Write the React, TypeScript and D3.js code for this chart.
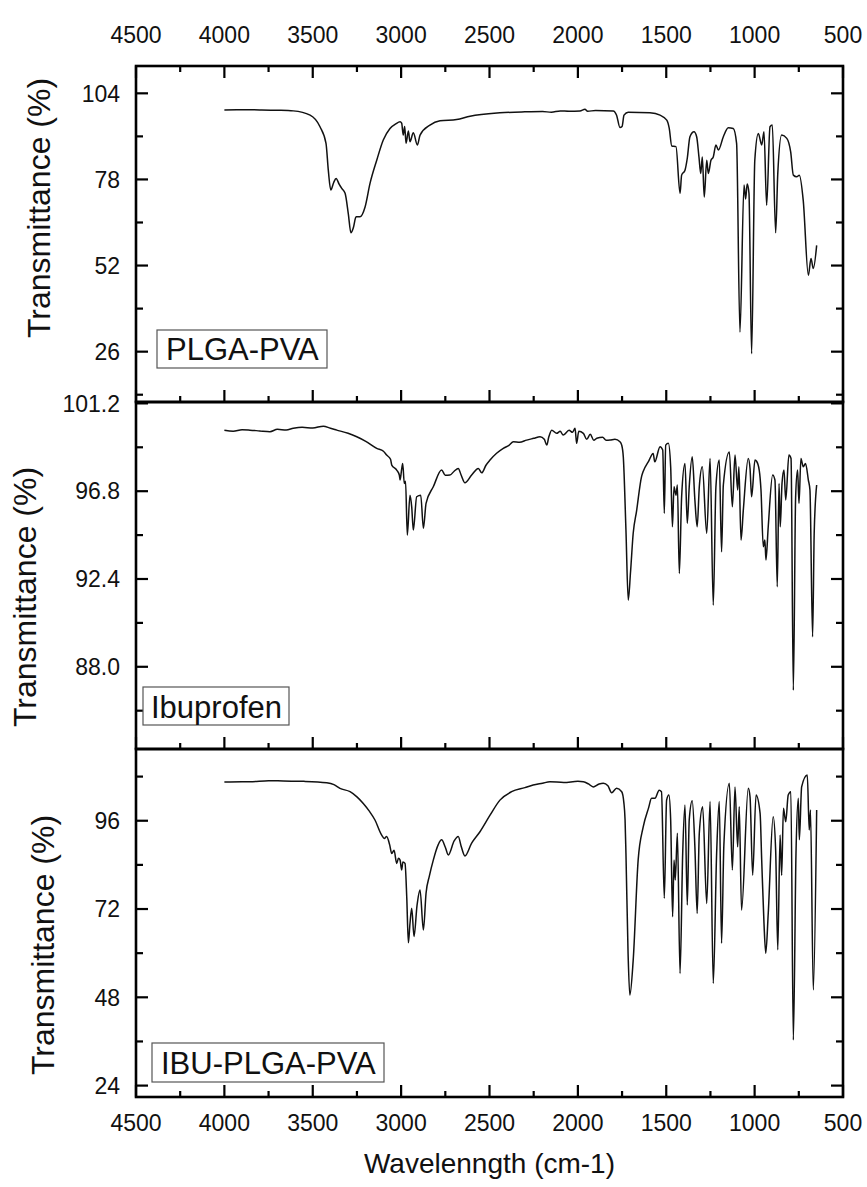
import React from "react";
import * as d3 from "d3";

// ---------- DATA (wavenumber cm-1, transmittance %) ----------
const xTickValues = [4500, 4000, 3500, 3000, 2500, 2000, 1500, 1000, 500];
const xMinorValues = [4250, 3750, 3250, 2750, 2250, 1750, 1250, 750];

const panelLabels = ["PLGA-PVA", "Ibuprofen", "IBU-PLGA-PVA"];
const yDomains: [number, number][] = [
  [10.8, 112.25],
  [83.88, 101.27],
  [20.9, 115.5],
];
const yMajorTicks = [
  [26, 52, 78, 104],
  [88.0, 92.4, 96.8, 101.2],
  [24, 48, 72, 96],
];
const yMinorTicks = [
  [13, 39, 65, 91],
  [85.8, 90.2, 94.6, 99],
  [36, 60, 84, 108],
];
const yTickDecimals = [0, 1, 0];

const plgaPva: [number, number][] = [
  [4000, 99], [3900, 99.05], [3800, 99], [3700, 98.9], [3610, 98.7], [3515, 97.4], [3459, 93.9],
  [3425, 88.9], [3412, 80.8], [3398, 74.8], [3382, 77], [3368, 78.3], [3350, 76.5], [3336, 75.3],
  [3317, 73.8], [3299, 67.7], [3284, 61.9], [3270, 63.5], [3255, 66.7], [3233, 66.7], [3204, 69.7],
  [3176, 76.8], [3138, 83.8], [3101, 89.9], [3063, 93.4], [3030, 94.8], [3006, 95.4], [2997, 95],
  [2988, 91.4], [2980, 94], [2972, 88.9], [2959, 92.6], [2950, 89.4], [2931, 92.1], [2908, 88.4],
  [2893, 91.4], [2837, 94.4], [2780, 95.7], [2686, 96.1], [2610, 97.1], [2441, 98.1], [2300, 98.4],
  [2200, 98.5], [2150, 98.3], [2100, 98.7], [2050, 98.6], [1988, 98.7], [1960, 99.2], [1945, 98.6],
  [1900, 98.8], [1800, 98.7], [1781, 97.4], [1762, 93.7], [1750, 94], [1739, 97.4], [1715, 98.3],
  [1592, 98.1], [1535, 97.4], [1497, 95.9], [1483, 93.4], [1469, 88.1], [1445, 87.9], [1422, 73.8],
  [1413, 79.3], [1394, 80.8], [1381, 84.4], [1366, 90.9], [1343, 92.4], [1328, 90.9], [1315, 84.8],
  [1305, 79.8], [1296, 84.8], [1285, 72.7], [1271, 83.8], [1262, 79.8], [1247, 83.8], [1234, 84.8],
  [1219, 88.4], [1205, 86.9], [1177, 90.9], [1149, 93.6], [1121, 93.4], [1102, 88.9], [1083, 31.9],
  [1060, 76.3], [1051, 72.1], [1042, 76.6], [1032, 73.8], [1017, 25.4], [999, 83.8], [979, 91.9],
  [960, 88.4], [947, 92.4], [932, 70.2], [913, 93.9], [900, 94.4], [881, 61.9], [869, 79.8],
  [847, 91.4], [818, 90.4], [796, 86.3], [781, 79.3], [762, 78.8], [747, 79.3], [725, 71.7],
  [696, 49.1], [681, 54.1], [668, 51.1], [649, 58.1],
];

const ibuprofen: [number, number][] = [
  [4000, 99.85], [3950, 99.8], [3900, 99.88], [3855, 99.86], [3800, 99.82], [3742, 99.78],
  [3700, 99.9], [3650, 99.87], [3610, 99.95], [3560, 100.0], [3500, 99.97], [3440, 100.06],
  [3400, 99.95], [3364, 99.86], [3300, 99.7], [3251, 99.53], [3200, 99.3], [3138, 98.95],
  [3100, 98.8], [3082, 98.61], [3060, 98.4], [3053, 98.11], [3025, 97.86], [3010, 97.6],
  [3006, 97.36], [2997, 97.9], [2991, 98.19], [2982, 97.19], [2975, 97.3], [2965, 94.6],
  [2950, 96.6], [2940, 96.0], [2931, 94.85], [2912, 96.52], [2889, 96.6], [2874, 94.94],
  [2859, 96.19], [2818, 97.02], [2771, 97.86], [2750, 97.6], [2724, 97.61], [2700, 97.8],
  [2677, 97.94], [2660, 97.6], [2639, 97.22], [2601, 97.61], [2563, 97.94], [2544, 97.72],
  [2520, 98.1], [2497, 98.36], [2460, 98.7], [2422, 98.95], [2390, 99.1], [2365, 99.28],
  [2330, 99.25], [2290, 99.36], [2250, 99.45], [2214, 99.53], [2190, 99.4], [2176, 99.11],
  [2165, 99.5], [2148, 99.86], [2120, 99.7], [2100, 99.8], [2083, 99.61], [2050, 99.85],
  [2030, 99.75], [2016, 99.95], [2007, 99.2], [1995, 99.8], [1969, 99.7], [1950, 99.4],
  [1930, 99.65], [1910, 99.35], [1893, 99.45], [1860, 99.5], [1840, 99.35], [1818, 99.36],
  [1790, 99.4], [1762, 99.28], [1752, 99.11], [1743, 98.52], [1728, 94.85], [1715, 91.34],
  [1702, 92.76], [1687, 94.69], [1668, 95.8], [1640, 97.52], [1630, 97.8], [1600, 98.3],
  [1574, 98.69], [1565, 98.27], [1535, 99.03], [1520, 98.86], [1511, 95.69], [1503, 99.11],
  [1488, 99.2], [1475, 98.02], [1465, 95.02], [1456, 97.02], [1445, 96.6], [1437, 97.11],
  [1426, 92.68], [1413, 96.52], [1394, 98.19], [1381, 95.19], [1370, 97.02], [1353, 98.52],
  [1338, 96.36], [1325, 95.02], [1313, 97.02], [1296, 98.02], [1271, 94.69], [1252, 98.44],
  [1234, 91.09], [1219, 97.02], [1200, 98.36], [1187, 93.76], [1177, 97.11], [1143, 98.77],
  [1126, 96.02], [1111, 98.61], [1096, 96.86], [1089, 98.02], [1077, 94.35], [1064, 95.85],
  [1036, 98.44], [1026, 97.94], [1017, 96.52], [998, 98.36], [989, 98.3], [974, 97.86],
  [964, 96.86], [951, 94.01], [942, 94.35], [936, 93.35], [923, 95.02], [898, 97.61],
  [885, 97.36], [872, 92.01], [862, 97.19], [855, 95.02], [845, 97.19], [834, 97.86],
  [824, 96.36], [806, 98.61], [794, 98.44], [781, 86.83], [768, 96.52], [757, 97.86],
  [749, 96.19], [738, 98.44], [725, 98.02], [712, 98.19], [696, 97.36], [687, 96.86],
  [672, 89.5], [663, 94.69], [649, 97.11],
];

const ibuPlgaPva: [number, number][] = [
  [4000, 106.5], [3900, 106.6], [3855, 106.6], [3750, 106.9], [3667, 106.8], [3550, 106.7],
  [3421, 106.3], [3380, 105.8], [3346, 104.8], [3289, 103.9], [3250, 102.5], [3214, 100.7],
  [3180, 98.6], [3148, 96.2], [3110, 92.1], [3095, 91.2], [3082, 91.7], [3065, 89.5],
  [3053, 87.1], [3040, 88.0], [3025, 84.4], [3015, 85.8], [3006, 85.3], [2997, 82.6],
  [2990, 84.8], [2978, 84.4], [2968, 75], [2959, 62.8], [2950, 68], [2940, 72.2], [2927, 64.5],
  [2910, 73], [2893, 77.2], [2874, 66.3], [2859, 76.3], [2840, 81], [2818, 85.3], [2790, 89.5],
  [2771, 90.8], [2750, 88.8], [2733, 86.7], [2700, 90.5], [2677, 91.7], [2660, 89], [2639, 86.4],
  [2601, 89.9], [2554, 93], [2497, 97.5], [2441, 101.6], [2375, 103.9], [2300, 105], [2253, 105.7],
  [2200, 106.2], [2158, 106.6], [2080, 106.4], [2000, 106.7], [1969, 106.6], [1940, 106],
  [1913, 105.2], [1880, 106], [1856, 106.2], [1830, 105.5], [1809, 103.6], [1781, 104.8],
  [1752, 103.9], [1740, 101], [1733, 96.2], [1728, 87.1], [1716, 60], [1706, 48.6], [1687, 58.1],
  [1659, 85.3], [1630, 94.4], [1600, 99.5], [1583, 102.1], [1564, 102.1], [1540, 104.3],
  [1527, 103.9], [1511, 74.9], [1498, 101.6], [1485, 103], [1475, 96.2], [1464, 69.9],
  [1456, 85.3], [1449, 79.9], [1437, 92.6], [1422, 54.5], [1407, 87.1], [1394, 100.3],
  [1381, 73.1], [1370, 96.2], [1353, 101.4], [1338, 88.9], [1325, 70.8], [1313, 92.6],
  [1294, 99.8], [1271, 73.5], [1252, 101.2], [1234, 51.8], [1215, 87.1], [1200, 101.2],
  [1187, 62.7], [1174, 89.4], [1143, 106.2], [1126, 82.6], [1111, 105.2], [1096, 88.9],
  [1087, 99.8], [1074, 71.7], [1036, 104.8], [1026, 102.5], [1011, 81.2], [992, 103], [969, 98],
  [960, 85.3], [947, 68.1], [937, 60], [923, 70.8], [895, 97.1], [881, 88], [869, 60.9],
  [856, 92.1], [847, 81.2], [837, 99.4], [824, 95.7], [810, 103], [795, 103.9], [781, 36.4],
  [766, 87], [753, 102.1], [747, 90.8], [734, 105.2], [702, 108.4], [691, 93.5], [684, 98.9],
  [668, 50], [649, 98.9],
];

const spectra = [plgaPva, ibuprofen, ibuPlgaPva];

// ---------- LAYOUT ----------
const W = 867;
const H = 1187;
const plotLeft = 136;
const plotRight = 843;
const panelTops = [66, 402, 749];
const panelBottoms = [402, 749, 1097];
const titleX = [50, 36, 54];
const titleY = [208, 597, 945];
const legendBoxes = [
  { x: 157, y: 330, w: 170, h: 38, tx: 166, ty: 360 },
  { x: 143, y: 687, w: 146, h: 38, tx: 151, ty: 718 },
  { x: 152, y: 1043, w: 232, h: 39, tx: 161, ty: 1074 },
];
const FONT = "'Liberation Sans', Arial, sans-serif";

export default function App() {
  const x = d3.scaleLinear().domain([4500, 500]).range([plotLeft, plotRight]);

  return (
    <svg
      width={W}
      height={H}
      viewBox={`0 0 ${W} ${H}`}
      style={{ position: "absolute", left: 0, top: 0, background: "#fff" }}
      fontFamily={FONT}
    >
      <rect x={0} y={0} width={W} height={H} fill="#fff" />
      {spectra.map((data, i) => {
        const top = panelTops[i];
        const bottom = panelBottoms[i];
        const y = d3.scaleLinear().domain(yDomains[i]).range([bottom, top]);
        const line = d3
          .line<[number, number]>()
          .x((d) => x(d[0]))
          .y((d) => y(d[1]))
          .curve(d3.curveMonotoneX);
        const fmt = d3.format(`.${yTickDecimals[i]}f`);
        const lb = legendBoxes[i];
        return (
          <g key={i}>
            <path d={line(data) || ""} fill="none" stroke="#111" strokeWidth={1.5} strokeLinejoin="round" />
            {yMajorTicks[i].map((v) => (
              <g key={`M${v}`}>
                <line x1={plotLeft} x2={plotLeft + 12} y1={y(v)} y2={y(v)} stroke="#000" strokeWidth={2.2} />
                <line x1={plotRight} x2={plotRight - 12} y1={y(v)} y2={y(v)} stroke="#000" strokeWidth={2.2} />
                <text x={120} y={y(v)} dy="0.36em" textAnchor="end" fontSize={23} fill="#111">
                  {fmt(v)}
                </text>
              </g>
            ))}
            {yMinorTicks[i].map((v) => (
              <g key={`m${v}`}>
                <line x1={plotLeft} x2={plotLeft + 7} y1={y(v)} y2={y(v)} stroke="#000" strokeWidth={2.2} />
                <line x1={plotRight} x2={plotRight - 7} y1={y(v)} y2={y(v)} stroke="#000" strokeWidth={2.2} />
              </g>
            ))}
            {xTickValues.map((v) => (
              <line key={`bx${v}`} x1={x(v)} x2={x(v)} y1={bottom} y2={bottom - 12} stroke="#000" strokeWidth={2.2} />
            ))}
            {xMinorValues.map((v) => (
              <line key={`bxm${v}`} x1={x(v)} x2={x(v)} y1={bottom} y2={bottom - 6} stroke="#000" strokeWidth={2.2} />
            ))}
            <text
              transform={`translate(${titleX[i]},${titleY[i]}) rotate(-90)`}
              textAnchor="middle"
              fontSize={32}
              fill="#111"
            >
              Transmittance (%)
            </text>
            <rect x={lb.x} y={lb.y} width={lb.w} height={lb.h} fill="#fff" stroke="#555" strokeWidth={1.2} />
            <text x={lb.tx} y={lb.ty} fontSize={31} fill="#111">
              {panelLabels[i]}
            </text>
            <rect
              x={plotLeft}
              y={top}
              width={plotRight - plotLeft}
              height={bottom - top}
              fill="none"
              stroke="#000"
              strokeWidth={2.6}
            />
          </g>
        );
      })}
      {xTickValues.map((v) => (
        <line key={`tx${v}`} x1={x(v)} x2={x(v)} y1={panelTops[0]} y2={panelTops[0] + 12} stroke="#000" strokeWidth={2.2} />
      ))}
      {xMinorValues.map((v) => (
        <line key={`txm${v}`} x1={x(v)} x2={x(v)} y1={panelTops[0]} y2={panelTops[0] + 6} stroke="#000" strokeWidth={2.2} />
      ))}
      {xTickValues.map((v) => (
        <g key={`lab${v}`}>
          <text x={x(v)} y={43} textAnchor="middle" fontSize={23} fill="#111">
            {v}
          </text>
          <text x={x(v)} y={1131} textAnchor="middle" fontSize={23} fill="#111">
            {v}
          </text>
        </g>
      ))}
      <text x={(plotLeft + plotRight) / 2} y={1173} textAnchor="middle" fontSize={28} fill="#111">
        Wavelenngth (cm-1)
      </text>
    </svg>
  );
}
